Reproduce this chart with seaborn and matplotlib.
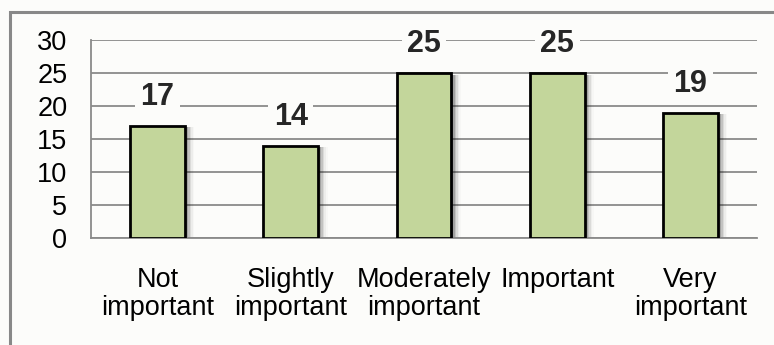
import matplotlib
matplotlib.use("Agg")
import matplotlib.pyplot as plt
from matplotlib.lines import Line2D
from matplotlib.patches import Rectangle
import seaborn as sns
import pandas as pd

categories = ["Not\nimportant", "Slightly\nimportant", "Moderately\nimportant",
              "Important", "Very\nimportant"]
values = [17, 14, 25, 25, 19]
y_ticks = [0, 5, 10, 15, 20, 25, 30]

BG = "#fcfcfa"
GRID = "#8a8a8a"
BAR = "#c3d69b"
FRAME = "#888888"

sns.set_theme(style="white")
plt.rcParams["font.family"] = ["Liberation Sans", "DejaVu Sans"]

df = pd.DataFrame({"category": categories, "count": values})

fig = plt.figure(figsize=(7.74, 3.45), dpi=100, facecolor=BG)
ax = fig.add_axes([91 / 774, 1 - 238 / 345, (757 - 91) / 774, (238 - 40) / 345])
ax.set_facecolor(BG)

sns.barplot(data=df, x="category", y="count", ax=ax, color=BAR,
            edgecolor="black", linewidth=2, width=0.41, saturation=1, zorder=3)

# soft drop shadow on the right of each bar
for p in list(ax.patches):
    x0, w, h = p.get_x(), p.get_width(), p.get_height()
    for i, a in enumerate([0.22, 0.16, 0.11, 0.07, 0.04, 0.02]):
        ax.add_patch(Rectangle((x0 + w, 0), 0.012 * (i + 1), h * 0.985,
                               facecolor="black", alpha=a, edgecolor="none",
                               zorder=2))

ax.set_ylim(0, 30)
ax.set_xlim(-0.5, len(categories) - 0.5)
ax.set_yticks(y_ticks)
ax.set_yticklabels([str(t) for t in y_ticks], fontsize=19.5)
ax.set_xticks(range(len(categories)))
ax.set_xticklabels(categories, fontsize=19.5, linespacing=1.1, va="top")
ax.set_xticks([i - 0.5 for i in range(len(categories) + 1)], minor=True)
ax.tick_params(axis="x", which="major", length=0, pad=21, colors="black")
ax.tick_params(axis="x", which="minor", length=6, width=1.3, color=GRID,
               direction="out")
ax.tick_params(axis="y", length=7, width=1.3, color=GRID, direction="out",
               pad=10, labelcolor="black")
ax.set_xlabel("")
ax.set_ylabel("")

ax.yaxis.grid(True, color=GRID, linewidth=1.3, zorder=0)
ax.set_axisbelow(True)
for s in ["top", "right"]:
    ax.spines[s].set_visible(False)
for s in ["left", "bottom"]:
    ax.spines[s].set_color(GRID)
    ax.spines[s].set_linewidth(1.3)

for cont in ax.containers:
    ax.bar_label(cont, labels=[str(v) for v in values], padding=10,
                 fontsize=22, fontweight="bold", zorder=5,
                 bbox=dict(facecolor=BG, edgecolor="none", pad=4))

# outer chart frame (left and top edges; the rest runs off the canvas)
frame = Rectangle((9.5, -20), 800, 345 - 11.5 + 20, transform=None,
                  fill=False, edgecolor=FRAME, linewidth=2.2, zorder=20)
fig.add_artist(frame)

fig.savefig("out.png", dpi=100, facecolor=BG)
